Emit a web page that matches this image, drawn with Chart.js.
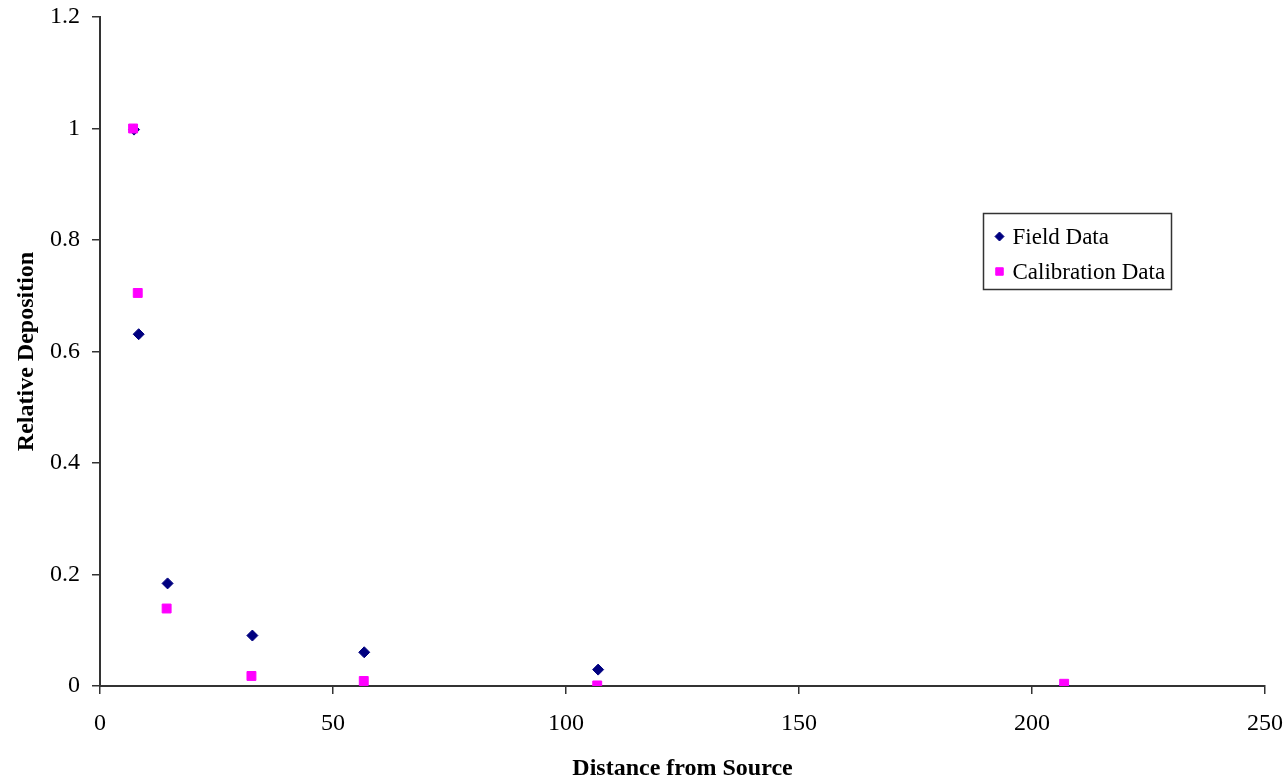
<!DOCTYPE html>
<html>
<head>
<meta charset="utf-8">
<script src="https://cdn.jsdelivr.net/npm/chart.js@4/dist/chart.umd.min.js"></script>
<style>
  html, body { margin: 0; padding: 0; background: #fff; }
  #wrap { width: 1285px; height: 779px; position: relative; }
</style>
</head>
<body>
<div id="wrap"><canvas id="c"></canvas></div>
<script>
// values
const fieldX = [7.3, 8.3, 14.5, 32.7, 56.7, 106.9, 206.9];
const fieldY = [0.998, 0.631, 0.184, 0.0905, 0.0605, 0.0294, 0.0];
const calX = [7.1, 8.1, 14.3, 32.5, 56.6, 106.7, 206.9];
const calY = [1.0, 0.705, 0.139, 0.018, 0.009, 0.001, 0.004];
const xTicks = [0, 50, 100, 150, 200, 250];
const yTicks = [0, 0.2, 0.4, 0.6, 0.8, 1, 1.2];

const SERIF = '"Liberation Serif", "Times New Roman", serif';
const AXIS = '#333';

const toPts = (xs, ys) => xs.map((x, i) => ({ x, y: ys[i] }));

const datasets = [
  {
    label: 'Field Data',
    data: toPts(fieldX, fieldY),
    pointStyle: 'rectRot',
    pointRadius: 5.5,
    borderWidth: 1,
    backgroundColor: '#000080',
    borderColor: '#000080',
    order: 1
  },
  {
    label: 'Calibration Data',
    data: toPts(calX, calY),
    pointStyle: 'rect',
    pointRadius: 6.3,
    borderWidth: 1,
    backgroundColor: '#ff00ff',
    borderColor: '#ff00ff',
    order: 0
  }
];

// boxed legend sitting inside the plot, like the old spreadsheet one
const boxLegend = {
  id: 'boxLegend',
  afterDraw(chart) {
    const { ctx } = chart;
    const bx = 983.5, by = 213.5, bw = 188, bh = 76;
    ctx.save();
    ctx.fillStyle = '#fff';
    ctx.fillRect(bx, by, bw, bh);
    ctx.strokeStyle = AXIS;
    ctx.lineWidth = 1.5;
    ctx.strokeRect(bx, by, bw, bh);
    ctx.font = '23px ' + SERIF;
    ctx.textBaseline = 'middle';
    ctx.textAlign = 'left';
    datasets.forEach((ds, i) => {
      const cy = by + 23 + i * 35;
      ctx.fillStyle = ds.backgroundColor;
      ctx.strokeStyle = ds.borderColor;
      ctx.lineWidth = 1;
      Chart.helpers.drawPoint(ctx, {
        pointStyle: ds.pointStyle,
        radius: ds.pointStyle === 'rect' ? 5.3 : 4.5,
        rotation: 0,
        borderWidth: 1
      }, bx + 16, cy);
      ctx.fillStyle = '#000';
      ctx.fillText(ds.label, bx + 29, cy + 1);
    });
    ctx.restore();
  }
};

// keep the plot box where the reference has it: no extra room for edge labels
const noEdgePad = (s) => {
  s.paddingTop = 0;
  s.paddingBottom = 0;
  s.paddingLeft = 0;
  s.paddingRight = 0;
};

new Chart(document.getElementById('c'), {
  type: 'scatter',
  data: { datasets },
  plugins: [boxLegend],
  options: {
    responsive: true,
    maintainAspectRatio: false,
    animation: false,
    layout: { padding: { left: 0, right: 20, top: 17, bottom: 0 } },
    plugins: {
      legend: { display: false },
      tooltip: { enabled: false }
    },
    scales: {
      x: {
        type: 'linear',
        min: 0,
        max: 250,
        afterBuildTicks: (s) => { s.ticks = xTicks.map((v) => ({ value: v })); },
        afterFit: (s) => { s.height = 93; noEdgePad(s); },
        grid: { drawOnChartArea: false, drawTicks: true, tickLength: 8, color: AXIS, lineWidth: 1.5 },
        border: { display: true, color: AXIS, width: 2 },
        ticks: { color: '#000', font: { family: SERIF, size: 24 }, padding: 15, maxRotation: 0 },
        title: {
          display: true,
          text: 'Distance from Source',
          color: '#000',
          font: { family: SERIF, size: 24, weight: 'bold', lineHeight: 1 },
          padding: { top: 0, bottom: -2 }
        }
      },
      y: {
        type: 'linear',
        min: 0,
        max: 1.2,
        afterBuildTicks: (s) => { s.ticks = yTicks.map((v) => ({ value: v })); },
        afterFit: (s) => { s.width = 100; noEdgePad(s); },
        grid: { drawOnChartArea: false, drawTicks: true, tickLength: 8, color: AXIS, lineWidth: 1.5 },
        border: { display: true, color: AXIS, width: 2 },
        ticks: {
          color: '#000',
          font: { family: SERIF, size: 24 },
          padding: 12,
          callback: (v) => String(+Number(v).toFixed(1))
        },
        title: {
          display: true,
          text: 'Relative Deposition',
          color: '#000',
          font: { family: SERIF, size: 24, weight: 'bold', lineHeight: 1 },
          padding: { top: 15, bottom: 0 }
        }
      }
    }
  }
});
</script>
</body>
</html>
